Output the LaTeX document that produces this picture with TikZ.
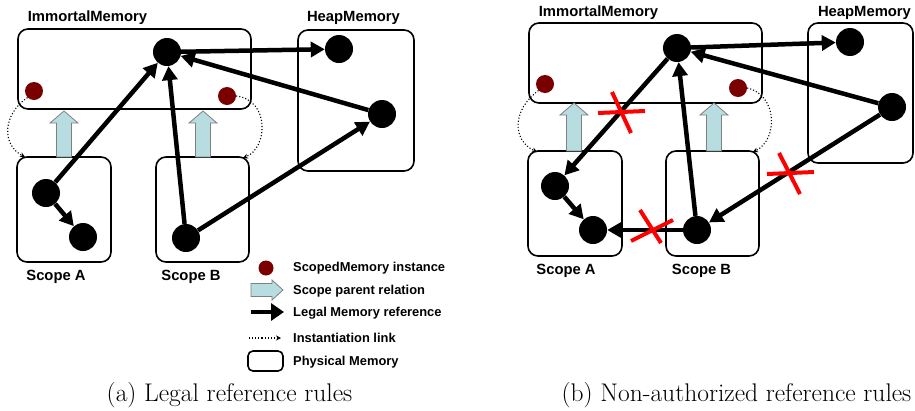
\documentclass[tikz,border=0pt]{standalone}
\usepackage{fontspec}
\newfontfamily\lab{Liberation Sans}
\usetikzlibrary{arrows.meta,calc}
\definecolor{smred}{HTML}{7A0000}
\definecolor{parentfill}{HTML}{B7DDE0}
\tikzset{
 membox/.style={draw, line width=1.6pt, rounded corners=10pt, inner sep=0pt},
 obj/.style={circle, fill=black, minimum size=28pt, inner sep=0pt},
 smi/.style={circle, fill=smred, minimum size=18pt, inner sep=0pt},
 ref/.style={line width=4.5pt, -{Triangle[length=14pt,width=15pt]}},
 inst/.style={line width=1.1pt, dotted, -{Stealth[length=5pt,width=5pt]}},
 crossmark/.style={red, line width=4pt},
 title/.style={font=\lab\bfseries\fontsize{14.8}{16}\selectfont, inner sep=0pt},
 legtext/.style={font=\lab\bfseries\fontsize{12.9}{14}\selectfont, anchor=west, inner sep=0pt},
 captext/.style={font=\fontsize{25.5}{28}\selectfont, inner sep=0pt},
 parent/.style={fill=parentfill, draw=gray, line width=0.8pt},
}
\newcommand\parentup[3]{\draw[parent] (#1-7.5,#2) -- (#1-7.5,#3+12) -- (#1-14,#3+12) -- (#1,#3) -- (#1+14,#3+12) -- (#1+7.5,#3+12) -- (#1+7.5,#2) -- cycle;}
\begin{document}
\begin{tikzpicture}[x=1pt,y=-1pt]
\useasboundingbox (0,0) rectangle (915,410);
% ---------------- panel (a)
\node[membox, minimum width=233, minimum height=80] (aimm) at (134.5,69) {};
\node[membox, minimum width=116, minimum height=141] (aheap) at (356,100.5) {};
\node[membox, minimum width=94, minimum height=105] (asca) at (64,209.5) {};
\node[membox, minimum width=93, minimum height=105] (ascb) at (202.5,209.5) {};
\node[title] (aimmlab) at (87.5,18) {ImmortalMemory};
\node[title] (aheaplab) at (353.5,18) {HeapMemory};
\node[title] (asalab) at (56,277) {Scope A};
\node[title] (asblab) at (191,277) {Scope B};
\node[obj] (am) at (167,52) {};
\node[obj] (ah1) at (339,49) {};
\node[obj] (ah2) at (382,114) {};
\node[obj] (aa1) at (46,193) {};
\node[obj] (aa2) at (83,237) {};
\node[obj] (ab1) at (186,238) {};
\node[smi] (asm1) at (34,91) {};
\node[smi] (asm2) at (227,96) {};
\parentup{64}{157}{111}
\parentup{203}{157}{111}
\coordinate (ainA) at (25,157);
\coordinate (ainB) at (243,158);
\draw[inst] (asm1.south west) .. controls (2,115) and (2,145) .. (ainA);
\draw[inst] (asm2.east) .. controls (270,100) and (268,148) .. (ainB);
\draw[ref] (am) -- (ah1);
\draw[ref] (aa1) -- (am);
\draw[ref] (aa1) -- (aa2);
\draw[ref] (ab1) -- (am);
\draw[ref] (ab1) -- (ah2);
\draw[ref] (ah2) -- (am);
% legend
\node[smi, minimum size=15pt] (lsm) at (266,268) {};
\node[legtext] (lt1) at (293,268) {ScopedMemory instance};
\draw[parent] (251,283.5) -- (272,283.5) -- (272,280) -- (283,290) -- (272,300) -- (272,296.5) -- (251,296.5) -- cycle;
\node[legtext] (lt2) at (293,291) {Scope parent relation};
\coordinate (lr1) at (251,312);
\coordinate (lr2) at (284,312);
\draw[ref, -{Triangle[length=13pt,width=17pt]}] (lr1) -- (lr2);
\node[legtext] (lt3) at (293,313) {Legal Memory reference};
\coordinate (li1) at (249,338);
\coordinate (li2) at (281,338);
\draw[inst] (li1) -- (li2);
\node[legtext] (lt4) at (293,338) {Instantiation link};
\node[membox, rounded corners=5pt, minimum width=35, minimum height=20] (lpm) at (265.5,361) {};
\node[legtext] (lt5) at (293,362) {Physical Memory};
\node[captext] (capa) at (229.5,395) {(a) Legal reference rules};
% ---------------- panel (b)
\node[membox, minimum width=233, minimum height=80] (bimm) at (645.5,63) {};
\node[membox, minimum width=105, minimum height=140] (bheap) at (860.5,93) {};
\node[membox, minimum width=94, minimum height=105] (bsca) at (575,203.5) {};
\node[membox, minimum width=93, minimum height=105] (bscb) at (712.5,203.5) {};
\node[title] (bimmlab) at (598.5,13) {ImmortalMemory};
\node[title] (bheaplab) at (864.5,13) {HeapMemory};
\node[title] (bsalab) at (566,271) {Scope A};
\node[title] (bsblab) at (701.5,271) {Scope B};
\node[obj] (bm) at (677,48) {};
\node[obj] (bh1) at (850,42) {};
\node[obj] (bh2) at (892,107) {};
\node[obj] (ba1) at (555,186) {};
\node[obj] (ba2) at (593,230) {};
\node[obj] (bb1) at (697,230) {};
\node[smi] (bsm1) at (545,84) {};
\node[smi] (bsm2) at (738,88) {};
\parentup{574}{151}{103}
\parentup{714}{151}{103}
\coordinate (binA) at (537,152);
\coordinate (binB) at (753,152);
\draw[inst] (bsm1.south west) .. controls (512,110) and (512,140) .. (binA);
\draw[inst] (bsm2.east) .. controls (778,95) and (778,140) .. (binB);
\draw[ref] (bm) -- (bh1);
\draw[ref] (bm) -- (ba1);
\draw[ref] (ba1) -- (ba2);
\draw[ref] (bb1) -- (ba2);
\draw[ref] (bb1) -- (bm);
\draw[ref] (bh2) -- (bm);
\draw[ref] (bh2) -- (bb1);
\draw[crossmark] (598,113) -- (645,111) (612,92) -- (631,133);
\draw[crossmark] (767,174) -- (814,172) (779,153) -- (800,194);
\draw[crossmark] (631,241) -- (673,220) (640,210) -- (661,243);
\node[captext] (capb) at (736.5,395) {(b) Non-authorized reference rules};
\end{tikzpicture}
\end{document}
